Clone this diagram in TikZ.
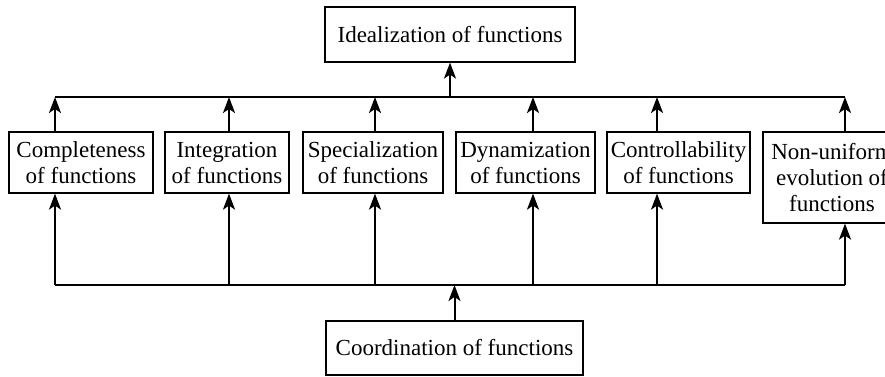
\documentclass[tikz,border=0pt]{standalone}
\usepackage{fontspec}
\setmainfont{Liberation Serif}
\usetikzlibrary{arrows.meta,positioning}

\begin{document}
\begin{tikzpicture}[x=1pt, y=1pt,
  box/.style={draw, line width=1.2pt, align=center, inner sep=2pt,
              font=\fontsize{23}{26}\selectfont, minimum height=61pt},
  bus/.style={line width=1.6pt},
  link/.style={line width=2pt, -{Stealth[length=16pt,width=12pt,inset=4pt]}}
]
\useasboundingbox (0,0) rectangle (885,376);

\node[box, minimum width=250pt, minimum height=55pt] (ideal) at (450,341.5) {Idealization of functions};
\node[box, minimum width=144pt] (compl) at (81,213.5) {Completeness\\of functions};
\node[box, minimum width=124pt] (integ) at (227,213.5) {Integration\\of functions};
\node[box, minimum width=140pt] (spec) at (373,213.5) {Specialization\\of functions};
\node[box, minimum width=139pt] (dyn) at (525.5,213.5) {Dynamization\\of functions};
\node[box, minimum width=143pt] (ctrl) at (678.5,213.5) {Controllability\\of functions};
\node[box, minimum width=138pt, minimum height=91pt] (nonu) at (832,198.5) {Non-uniform\\evolution of\\functions};
\node[box, minimum width=257pt, minimum height=54pt] (coord) at (454.5,28) {Coordination of functions};

% the two buses
\coordinate (tl) at (55,279);
\coordinate (tr) at (845,279);
\coordinate (bl) at (55,91);
\coordinate (br) at (845,91);
\draw[bus] (tl) -- (tr);
\draw[bus] (bl) -- (br);

\foreach \n/\x in {compl/55, integ/229, spec/375, dyn/533, ctrl/657, nonu/845} {
  \coordinate (top-\n) at (\x,279);
  \coordinate (bot-\n) at (\x,91);
  \draw[link] (\n.north -| top-\n) -- (top-\n);
  \draw[link] (bot-\n) -- (bot-\n |- \n.south);
}

\draw[link] (ideal.south |- tl) -- (ideal.south);
\draw[link] (coord.north) -- (coord.north |- bl);
\end{tikzpicture}
\end{document}
